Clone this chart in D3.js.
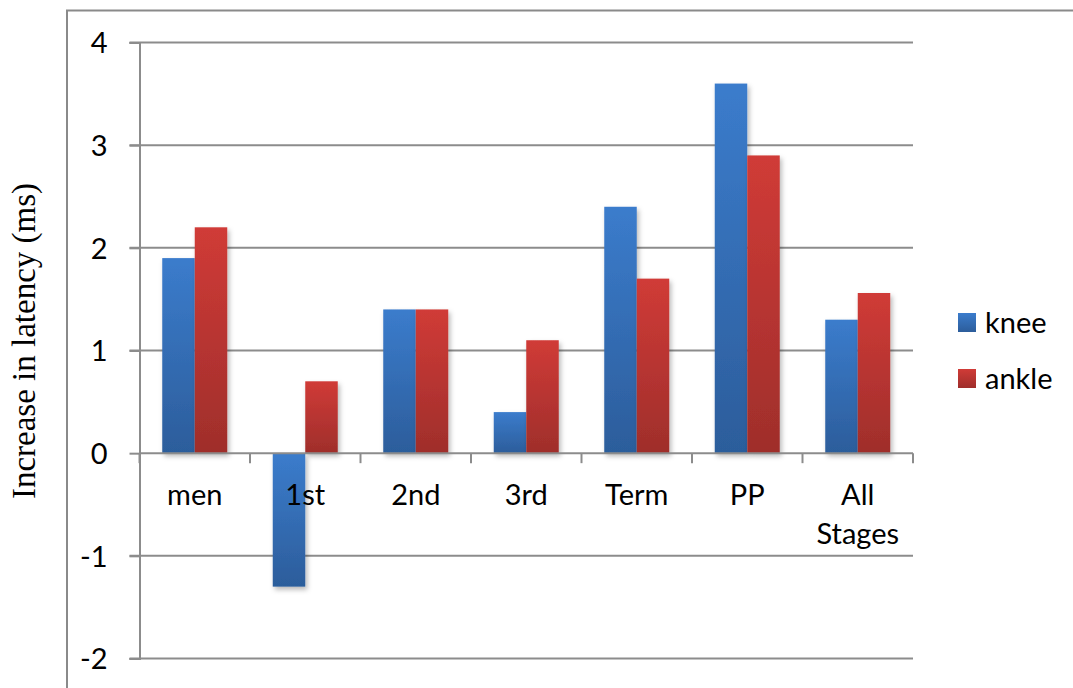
<!DOCTYPE html>
<html>
<head>
<meta charset="utf-8">
<script src="https://cdn.jsdelivr.net/npm/d3@7"></script>
<style>
  html, body { margin: 0; padding: 0; background: #fff; }
  svg { display: block; }
</style>
</head>
<body>
<svg id="chart" width="1073" height="688"></svg>
<script>
// Latency increase per group, knee vs ankle reflex (ms)
const categories = ["men", "1st", "2nd", "3rd", "Term", "PP", "All Stages"];
const series = ["knee", "ankle"];
const kneeValues = [1.9, -1.3, 1.4, 0.4, 2.4, 3.6, 1.3];
const ankleValues = [2.2, 0.7, 1.4, 1.1, 1.7, 2.9, 1.56];
const yTicks = [-2, -1, 0, 1, 2, 3, 4];
const yTitle = "Increase in latency (ms)";

const valuesBySeries = { knee: kneeValues, ankle: ankleValues };
const rows = categories.map((c, i) => ({
  category: c,
  values: series.map(s => ({ key: s, value: valuesBySeries[s][i] }))
}));

const svg = d3.select("#chart");
const plot = { left: 139.5, right: 913, top: 42.5, bottom: 658.5 };
const gridColor = "#8c8c8c";
const labelFont = "Lato, 'Open Sans', sans-serif";
const labelSize = 29;

const x0 = d3.scaleBand().domain(categories).range([plot.left, plot.right]).padding(0);
const x1 = d3.scaleBand().domain(series).range([0, x0.bandwidth()]).paddingInner(0).paddingOuter(0.7);
const y = d3.scaleLinear().domain([-2, 4]).range([plot.bottom, plot.top]);

// Gradients and bar shadow
const defs = svg.append("defs");
const gradStops = {
  knee: ["#3b7ccc", "#2c5d9b"],
  ankle: ["#d03b37", "#9f2e2b"]
};
series.forEach(s => {
  const g = defs.append("linearGradient")
    .attr("id", "grad-" + s).attr("x1", 0).attr("y1", 0).attr("x2", 0).attr("y2", 1);
  g.append("stop").attr("offset", "0%").attr("stop-color", gradStops[s][0]);
  g.append("stop").attr("offset", "100%").attr("stop-color", gradStops[s][1]);
});
const shadow = defs.append("filter").attr("id", "barShadow")
  .attr("x", "-30%").attr("y", "-10%").attr("width", "160%").attr("height", "130%");
shadow.append("feDropShadow")
  .attr("dx", 2).attr("dy", 3).attr("stdDeviation", 2.5)
  .attr("flood-color", "#000").attr("flood-opacity", 0.28);

// Outer chart frame (top and left edges visible)
svg.append("path")
  .attr("d", "M67,688 V10.5 H1073")
  .attr("fill", "none").attr("stroke", "#8a8a8a").attr("stroke-width", 2);

// Horizontal gridlines with left tick extensions
svg.append("g").selectAll("line")
  .data(yTicks.filter(t => t !== 0))
  .join("line")
  .attr("x1", plot.left - 10).attr("x2", plot.right)
  .attr("y1", d => y(d)).attr("y2", d => y(d))
  .attr("stroke", gridColor).attr("stroke-width", 2);

// Y axis
const yAxis = svg.append("g")
  .attr("transform", `translate(${plot.left},0)`)
  .call(d3.axisLeft(y).tickValues(yTicks).tickSize(10).tickPadding(22).tickFormat(d => String(d)));
yAxis.select(".domain").attr("stroke", gridColor).attr("stroke-width", 2);
yAxis.selectAll(".tick line").attr("stroke", gridColor).attr("stroke-width", 2);
yAxis.selectAll(".tick text")
  .attr("font-family", labelFont).attr("font-size", labelSize).attr("fill", "#000")
  .attr("dy", "0.36em");

// Bars
const groups = svg.append("g").selectAll("g")
  .data(rows).join("g")
  .attr("transform", d => `translate(${x0(d.category)},0)`);
groups.selectAll("rect")
  .data(d => d.values).join("rect")
  .attr("x", d => x1(d.key))
  .attr("width", x1.bandwidth())
  .attr("y", d => y(Math.max(0, d.value)))
  .attr("height", d => Math.abs(y(d.value) - y(0)))
  .attr("fill", d => `url(#grad-${d.key})`)
  .attr("filter", "url(#barShadow)");

// Category axis along zero
const xAxis = svg.append("g")
  .attr("transform", `translate(0,${y(0)})`);
xAxis.append("line")
  .attr("x1", plot.left).attr("x2", plot.right)
  .attr("stroke", gridColor).attr("stroke-width", 2);
const boundaries = categories.map(c => x0(c)).concat([plot.right]);
xAxis.selectAll("line.tick")
  .data(boundaries).join("line")
  .attr("class", "tick")
  .attr("x1", d => d).attr("x2", d => d)
  .attr("y1", 0).attr("y2", 10)
  .attr("stroke", gridColor).attr("stroke-width", 2);

// Category labels (wrapped onto two lines where needed)
const catLabels = svg.append("g").selectAll("text")
  .data(categories).join("text")
  .attr("x", d => x0(d) + x0.bandwidth() / 2)
  .attr("y", 505)
  .attr("text-anchor", "middle")
  .attr("font-family", labelFont).attr("font-size", labelSize).attr("fill", "#000");
catLabels.each(function(d) {
  const words = d.split(" ");
  const t = d3.select(this);
  words.forEach((w, i) => {
    t.append("tspan")
      .attr("x", x0(d) + x0.bandwidth() / 2)
      .attr("dy", i === 0 ? 0 : 39)
      .text(w);
  });
});

// Y axis title
svg.append("text")
  .attr("transform", "translate(35,341) rotate(-90)")
  .attr("text-anchor", "middle")
  .attr("font-family", "'Liberation Serif', 'Times New Roman', serif")
  .attr("font-size", 33).attr("fill", "#000")
  .text(yTitle);

// Legend
const legend = svg.append("g").selectAll("g")
  .data(series).join("g")
  .attr("transform", (d, i) => `translate(958,${313 + i * 56})`);
legend.append("rect")
  .attr("width", 18).attr("height", 19)
  .attr("fill", d => `url(#grad-${d})`);
legend.append("text")
  .attr("x", 27).attr("y", 20)
  .attr("font-family", labelFont).attr("font-size", labelSize).attr("fill", "#000")
  .text(d => d);
</script>
</body>
</html>
